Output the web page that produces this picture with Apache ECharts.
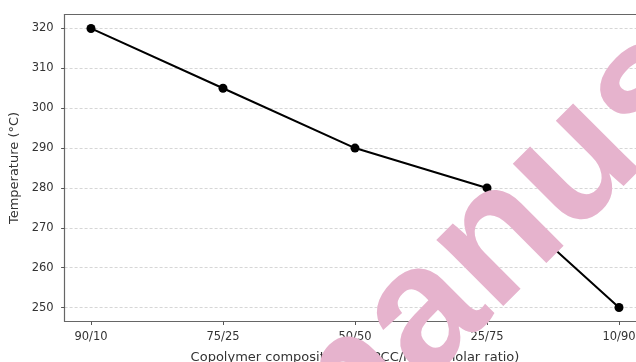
<!DOCTYPE html>
<html>
<head>
<meta charset="utf-8">
<script src="https://cdn.jsdelivr.net/npm/echarts@6/dist/echarts.min.js"></script>
<style>html,body{margin:0;padding:0;background:#fff;}#c{width:636px;height:362px;}</style>
</head>
<body>
<div id="c"></div>
<script>
const categories = ['90/10', '75/25', '50/50', '25/75', '10/90'];
const temperatures = [320, 305, 290, 280, 250];
const yTicks = [250, 260, 270, 280, 290, 300, 310, 320];
const xTickIndex = [0, 1, 2, 3, 4];

const chart = echarts.init(document.getElementById('c'), null, {renderer: 'canvas'});
const FONT = 'DejaVu Sans';
const spine = {show: true, onZero: false, lineStyle: {color: '#666', width: 1.2}};
chart.setOption({
  animation: false,
  backgroundColor: '#fff',
  grid: {left: 64.6, top: 14.5, width: 580.8, height: 307, outerBoundsMode: 'none', containLabel: false},
  xAxis: [{
    type: 'value', min: -0.2, max: 4.2,
    name: 'Copolymer composition (GVPCC/MMA, molar ratio)',
    nameLocation: 'middle', nameGap: 30,
    nameTextStyle: {fontFamily: FONT, fontSize: 13, color: '#333'},
    axisLine: spine,
    axisTick: {show: true, length: 3.5, lineStyle: {color: '#555', width: 1}, customValues: xTickIndex},
    axisLabel: {customValues: xTickIndex, margin: 10, fontFamily: FONT, fontSize: 11.5, color: '#333',
      formatter: v => categories[Math.round(v)]},
    splitLine: {show: false}
  }, {
    type: 'value', position: 'top', min: -0.2, max: 4.2,
    axisLine: spine, axisTick: {show: false}, axisLabel: {show: false}, splitLine: {show: false}
  }],
  yAxis: {
    type: 'value', min: 246.5, max: 323.5,
    name: 'Temperature (°C)', nameLocation: 'middle', nameGap: 36,
    nameTextStyle: {fontFamily: FONT, fontSize: 13, color: '#333'},
    axisLine: spine,
    axisTick: {show: true, length: 3.5, lineStyle: {color: '#555', width: 1}, customValues: yTicks},
    axisLabel: {customValues: yTicks, margin: 11, fontFamily: FONT, fontSize: 11.5, color: '#333'},
    splitLine: {show: true, lineStyle: {color: '#d6d6d6', width: 1, type: [3, 2]}}
  },
  series: [{
    type: 'line',
    data: categories.map((c, i) => [i, temperatures[i]]),
    lineStyle: {color: '#000', width: 2},
    itemStyle: {color: '#000'},
    symbol: 'circle', symbolSize: 9, showSymbol: true
  }],
  graphic: [{
    type: 'text', x: 278, y: 462, rotation: Math.PI / 4, z: 100,
    style: {text: 'manuscript', font: 'bold 178px "Liberation Sans"', fill: '#e6b3cd',
      align: 'left', verticalAlign: 'middle', blend: 'multiply'}
  }]
});
</script>
</body>
</html>
